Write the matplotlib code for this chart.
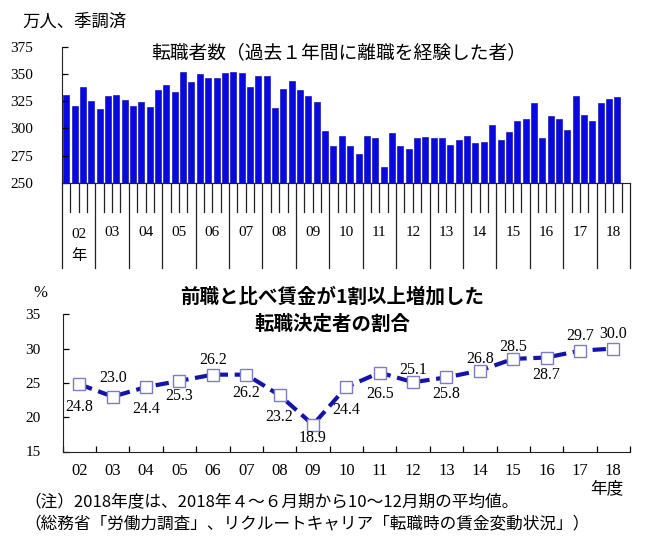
import numpy as np
import matplotlib
matplotlib.use("Agg")
import matplotlib.pyplot as plt
import matplotlib.transforms as mtransforms

plt.rcParams['font.family'] = ['Noto Sans CJK JP', 'DejaVu Sans']

# ---- data ----
year_labels = ['02', '03', '04', '05', '06', '07', '08', '09', '10',
               '11', '12', '13', '14', '15', '16', '17', '18']
# quarterly job changers (10k persons, s.a.), 2002Q1 - 2018Q3
changers = [331, 321, 338, 325,
            318, 330, 331, 326,
            321, 324, 320, 335,
            340, 333, 352, 343,
            350, 346, 346, 351,
            352, 351, 338, 348,
            348, 319, 336, 344,
            335, 330, 324, 298,
            284, 293, 284, 277,
            293, 291, 265, 296,
            284, 281, 291, 292,
            291, 291, 285, 289,
            293, 287, 288, 303,
            289, 297, 307, 309,
            323, 291, 311, 309,
            299, 330, 312, 307,
            323, 327, 329]
wage_share = [24.8, 23.0, 24.4, 25.3, 26.2, 26.2, 23.2, 18.9, 24.4,
              26.5, 25.1, 25.8, 26.8, 28.5, 28.7, 29.7, 30.0]
label_offsets_px = [23, -19, 22, 15, -15, 18, 22, 13, 23,
                    21, -12, 17, -12, -12, 17, -15, -15]

W, H = 647, 545
fig = plt.figure(figsize=(W / 100, H / 100), dpi=100)

def fx(px):
    return px / W

def fy(py):
    return 1 - py / H

serif = 'Liberation Serif'
bar_color = '#0808e0'
line_color = '#1414a8'

# ---- top bar chart ----
ax1 = fig.add_axes([fx(62), fy(183), fx(630) - fx(62), fy(46.7) - fy(183)])
nq = len(changers)
xq = np.arange(nq)
ax1.bar(xq, np.array(changers) - 250, bottom=250, width=0.72,
        color=bar_color, edgecolor='#0000a0', linewidth=0.4)
ax1.set_xlim(-0.5, 67.5)
ax1.set_ylim(250, 375)
ax1.set_yticks([250, 275, 300, 325, 350, 375])
ax1.tick_params(axis='y', direction='in', length=4, width=0.9, pad=21,
                labelsize=11)
for lab in ax1.get_yticklabels():
    lab.set_fontfamily(serif)
ax1.set_xticks([])
for s in ['top', 'right']:
    ax1.spines[s].set_visible(False)
ax1.spines['left'].set_color('#222222')
ax1.spines['bottom'].set_color('#222222')

trans = mtransforms.blended_transform_factory(ax1.transData, ax1.transAxes)
for k in range(len(year_labels) + 1):
    xb = -0.5 + 4 * k
    ax1.plot([xb, xb], [0, -0.624], transform=trans, color='#222222',
             lw=0.9, clip_on=False)
for i in range(68):
    if i % 4:
        xb = -0.5 + i
        ax1.plot([xb, xb], [0, -0.21], transform=trans, color='#222222',
                 lw=0.9, clip_on=False)
for k, yl in enumerate(year_labels):
    xc = 4 * k + 1.5
    if k == 0:
        ax1.text(xc, -0.38, yl, transform=trans, ha='center', va='center',
                 fontsize=11, fontfamily=serif)
        ax1.text(xc, -0.535, '年', transform=trans, ha='center', va='center',
                 fontsize=11)
    else:
        ax1.text(xc, -0.36, yl, transform=trans, ha='center', va='center',
                 fontsize=11, fontfamily=serif)

fig.text(fx(22), fy(21.7), '万人、季調済', ha='left', va='center', fontsize=12.5)
fig.text(fx(339), fy(53), '転職者数（過去１年間に離職を経験した者）',
         ha='center', va='center', fontsize=13.5)

# ---- bottom line chart ----
ax2 = fig.add_axes([fx(62.7), fy(451.5), fx(630) - fx(62.7), fy(314.3) - fy(451.5)])
xy = np.arange(len(wage_share))
ax2.plot(xy, wage_share, color=line_color, lw=3.0, linestyle=(0, (3.2, 1.6)),
         marker='s', markersize=8, markerfacecolor='white',
         markeredgecolor='#7c7cc4', markeredgewidth=1.0, zorder=3)
ax2.set_xlim(-0.5, 16.5)
ax2.set_ylim(15, 35)
ax2.set_yticks([15, 20, 25, 30, 35])
ax2.tick_params(axis='y', direction='in', length=4, width=0.9, pad=16,
                labelsize=11)
ax2.set_xticks(xy)
ax2.set_xticklabels(year_labels)
ax2.set_xticks(np.arange(-0.5, 17, 1), minor=True)
ax2.tick_params(axis='x', which='major', length=0, pad=8, labelsize=12)
ax2.tick_params(axis='x', which='minor', direction='in', length=4, width=0.9)
for lab in ax2.get_yticklabels() + ax2.get_xticklabels():
    lab.set_fontfamily(serif)
for s in ['top', 'right']:
    ax2.spines[s].set_visible(False)
ax2.spines['left'].set_color('#222222')
ax2.spines['bottom'].set_color('#222222')

for xi, v, off in zip(xy, wage_share, label_offsets_px):
    ax2.annotate(f'{v:.1f}', (xi, v), xytext=(0, -off * 0.72),
                 textcoords='offset points', ha='center', va='center',
                 fontsize=11.5, fontfamily=serif, zorder=4)

fig.text(fx(40), fy(292.7), '%', ha='center', va='center', fontsize=12,
         fontfamily=serif)
fig.text(fx(332), fy(297), '前職と比べ賃金が1割以上増加した', ha='center',
         va='center', fontsize=14, fontweight='bold')
fig.text(fx(332), fy(324), '転職決定者の割合', ha='center', va='center',
         fontsize=14, fontweight='bold')
fig.text(fx(607), fy(489), '年度', ha='center', va='center', fontsize=12)
fig.text(fx(24), fy(502.5), '（注）2018年度は、2018年４～６月期から10～12月期の平均値。',
         ha='left', va='center', fontsize=12)
fig.text(fx(24), fy(524), '（総務省「労働力調査」、リクルートキャリア「転職時の賃金変動状況」）',
         ha='left', va='center', fontsize=12)

fig.savefig('out.png', dpi=100)
